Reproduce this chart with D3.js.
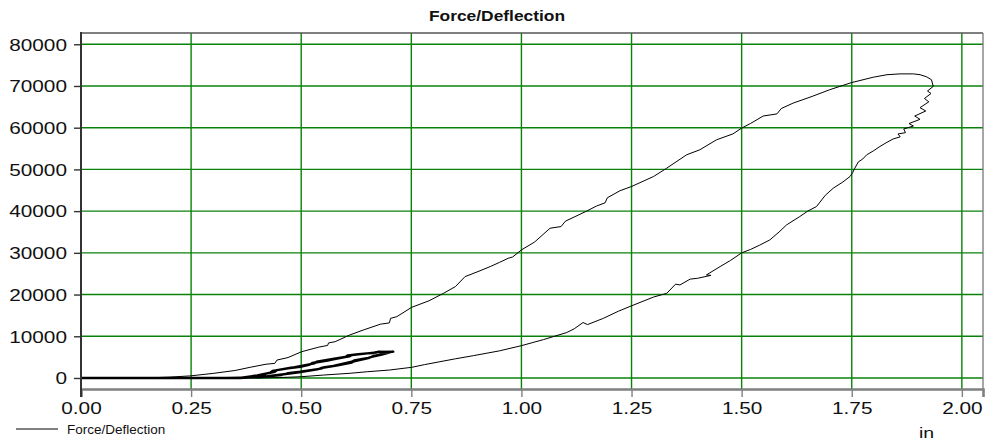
<!DOCTYPE html>
<html><head><meta charset="utf-8">
<script src="https://cdn.jsdelivr.net/npm/d3@7/dist/d3.min.js"></script>
<style>html,body{margin:0;padding:0;background:#fff;}svg{display:block;}</style>
</head><body>
<svg id="chart" width="985" height="445"></svg>
<script>
// ---- data ----
const title = "Force/Deflection";
const seriesName = "Force/Deflection";
const xUnit = "in";
const xTicks = [0, 0.25, 0.5, 0.75, 1.0, 1.25, 1.5, 1.75, 2.0];
const xTickLabels = ["0.00","0.25","0.50","0.75","1.00","1.25","1.50","1.75","2.00"];
const yTicks = [0, 10000, 20000, 30000, 40000, 50000, 60000, 70000, 80000];
const yTickLabels = ["0","10000","20000","30000","40000","50000","60000","70000","80000"];

// main loading branch
const loadX = [0.00,0.10,0.157,0.20,0.248,0.30,0.35,0.384,0.42,0.44,0.445,0.47,0.501,0.54,0.56,0.562,0.577,0.61,0.641,0.68,0.70,0.703,0.717,0.751,0.79,0.823,0.85,0.872,0.906,0.929,0.95,0.97,0.98,1.0,1.03,1.065,1.09,1.10,1.148,1.17,1.19,1.195,1.224,1.25,1.30,1.33,1.375,1.405,1.443,1.48,1.50,1.52,1.549,1.58,1.59,1.617,1.66,1.70,1.749,1.799,1.83,1.859,1.89,1.905,1.92,1.931];
const loadY = [0,0,50,200,500,1100,1800,2560,3300,3500,4300,4900,6300,7400,7800,8400,8700,10300,11500,12900,13200,14300,14700,16950,18500,20300,21900,24300,25700,26700,27700,28700,29000,30700,32600,35900,36300,37600,40000,41200,42000,43200,44900,45900,48300,50300,53500,54700,57100,58500,59900,61000,62800,63300,64600,65900,67500,69100,70800,72100,72700,72900,72900,72700,72200,71500];

// main unloading branch
const unloadX = [1.931,1.935,1.922,1.930,1.915,1.925,1.905,1.918,1.893,1.905,1.880,1.890,1.868,1.872,1.855,1.860,1.844,1.830,1.814,1.800,1.784,1.775,1.765,1.757,1.752,1.746,1.730,1.708,1.690,1.670,1.650,1.632,1.602,1.585,1.564,1.540,1.520,1.500,1.475,1.451,1.420,1.430,1.400,1.383,1.360,1.350,1.330,1.300,1.250,1.220,1.186,1.150,1.140,1.120,1.103,1.050,1.000,0.950,0.891,0.850,0.815,0.780,0.751,0.700,0.650,0.611,0.550,0.501,0.450,0.400];
const unloadY = [71500,69900,68800,68200,67000,66200,64800,64000,62800,62000,61000,60400,59700,58800,58500,57800,57300,56500,55500,54500,53500,52500,51800,50300,49200,48300,47000,45500,43800,41100,40000,38700,36700,35000,33100,31800,30800,30000,28200,26700,24700,24600,23900,23700,22300,22500,20300,19400,17300,16000,14300,12800,13300,11800,10900,9200,7750,6500,5350,4600,3900,3200,2560,1900,1500,1130,700,310,100,0];

// small repeated cycles (stair-stepped, as recorded)
const cycleX = [0.00,0.30,0.36,0.40,0.43,0.435,0.47,0.498,0.52,0.525,0.56,0.573,0.60,0.605,0.63,0.649,0.665,0.67,0.709,0.687,0.665,0.66,0.649,0.62,0.615,0.573,0.55,0.545,0.498,0.47,0.465,0.42,0.36,
                0.37,0.41,0.44,0.445,0.48,0.50,0.53,0.535,0.575,0.61,0.615,0.655,0.67,0.675,0.705,0.683,0.66,0.655,0.62,0.615,0.58,0.545,0.54,0.495,0.46,0.455,0.40,0.33];
const cycleY = [0,0,0,600,1300,1700,2300,2700,3200,3600,4200,4480,5000,5400,5700,5900,6000,6200,6300,5750,5300,5050,4720,4200,3900,2880,2500,2250,1500,1150,950,400,0,
                100,800,1500,1900,2500,2900,3500,3900,4600,5200,5500,5950,6100,6300,6250,5600,5100,4850,4000,3700,3000,2400,2150,1350,900,700,150,0];

// ---- layout ----
const svg = d3.select("#chart");
const L = 81, R = 983, T = 33, B = 389;
const x = d3.scaleLinear().domain([0, 2.048]).range([L, R]);
const y = d3.scaleLinear().domain([-2640, 82700]).range([B, T]);
const SX = 1.3;
const font = "'Liberation Sans', Arial, sans-serif";

// grid
const grid = svg.append("g");
grid.selectAll("line.gx").data(xTicks).enter().append("line")
  .attr("x1", d => x(d)).attr("x2", d => x(d)).attr("y1", T).attr("y2", B)
  .attr("stroke", "#0a820a").attr("stroke-width", 1.4);
grid.selectAll("line.gy").data(yTicks).enter().append("line")
  .attr("x1", L).attr("x2", R).attr("y1", d => y(d)).attr("y2", d => y(d))
  .attr("stroke", "#0a820a").attr("stroke-width", 1.4);

// frame (top & right)
svg.append("line").attr("x1", L).attr("x2", R).attr("y1", T).attr("y2", T).attr("stroke", "#555").attr("stroke-width", 1.3);
svg.append("line").attr("x1", R).attr("x2", R).attr("y1", T).attr("y2", B).attr("stroke", "#777").attr("stroke-width", 1.3);

// curves
const line = d3.line().x(d => x(d[0])).y(d => y(d[1]));
const zip = (a, b) => a.map((v, i) => [v, b[i]]);
const curveG = svg.append("g").attr("fill", "none").attr("stroke", "#000").attr("stroke-width", 1).attr("stroke-linejoin", "round");
curveG.append("path").attr("d", line(zip(cycleX, cycleY))).attr("stroke-width", 2.4);
curveG.append("path").attr("d", line(zip(loadX, loadY)));
curveG.append("path").attr("d", line(zip(unloadX, unloadY)));

// x axis
const xAxis = d3.axisBottom(x).tickValues(xTicks).tickSize(8).tickFormat((d, i) => xTickLabels[i]);
const gx = svg.append("g").attr("transform", `translate(0,${B})`).call(xAxis);
gx.select(".domain").attr("stroke", "#808080").attr("stroke-width", 2.6);
gx.selectAll(".tick line").attr("stroke", "#808080").attr("stroke-width", 1.4);
gx.selectAll(".tick text").attr("font-family", font).attr("font-size", 16).attr("fill", "#111")
  .attr("y", 0).attr("dy", 0).attr("transform", `translate(0,24.5) scale(${SX},1)`);

// y axis
const yAxis = d3.axisLeft(y).tickValues(yTicks).tickSize(7).tickFormat((d, i) => yTickLabels[i]);
const gy = svg.append("g").attr("transform", `translate(${L},0)`).call(yAxis);
gy.select(".domain").remove();
gy.selectAll(".tick line").attr("stroke", "#333").attr("stroke-width", 1.4);
gy.selectAll(".tick text").attr("font-family", font).attr("font-size", 16).attr("fill", "#111")
  .attr("x", 0).attr("dy", 0).attr("transform", `translate(-14,5.8) scale(${SX},1)`);
svg.append("line").attr("x1", L).attr("x2", L).attr("y1", T - 1).attr("y2", B + 8)
  .attr("stroke", "#333").attr("stroke-width", 2);

// title
svg.append("text").attr("transform", `translate(497,20.5) scale(1.2,1)`)
  .attr("text-anchor", "middle").attr("font-family", font).attr("font-weight", "bold")
  .attr("font-size", 14.5).attr("fill", "#111").text(title);

// unit label
svg.append("text").attr("transform", `translate(919,438) scale(${SX},1)`)
  .attr("font-family", font).attr("font-size", 15).attr("fill", "#111").text(xUnit);

// legend
svg.append("line").attr("x1", 16).attr("x2", 58).attr("y1", 429).attr("y2", 429).attr("stroke", "#000").attr("stroke-width", 1);
svg.append("text").attr("transform", `translate(67,433.5) scale(1.08,1)`)
  .attr("font-family", font).attr("font-size", 12.5).attr("fill", "#111").text(seriesName);
</script>
</body></html>
